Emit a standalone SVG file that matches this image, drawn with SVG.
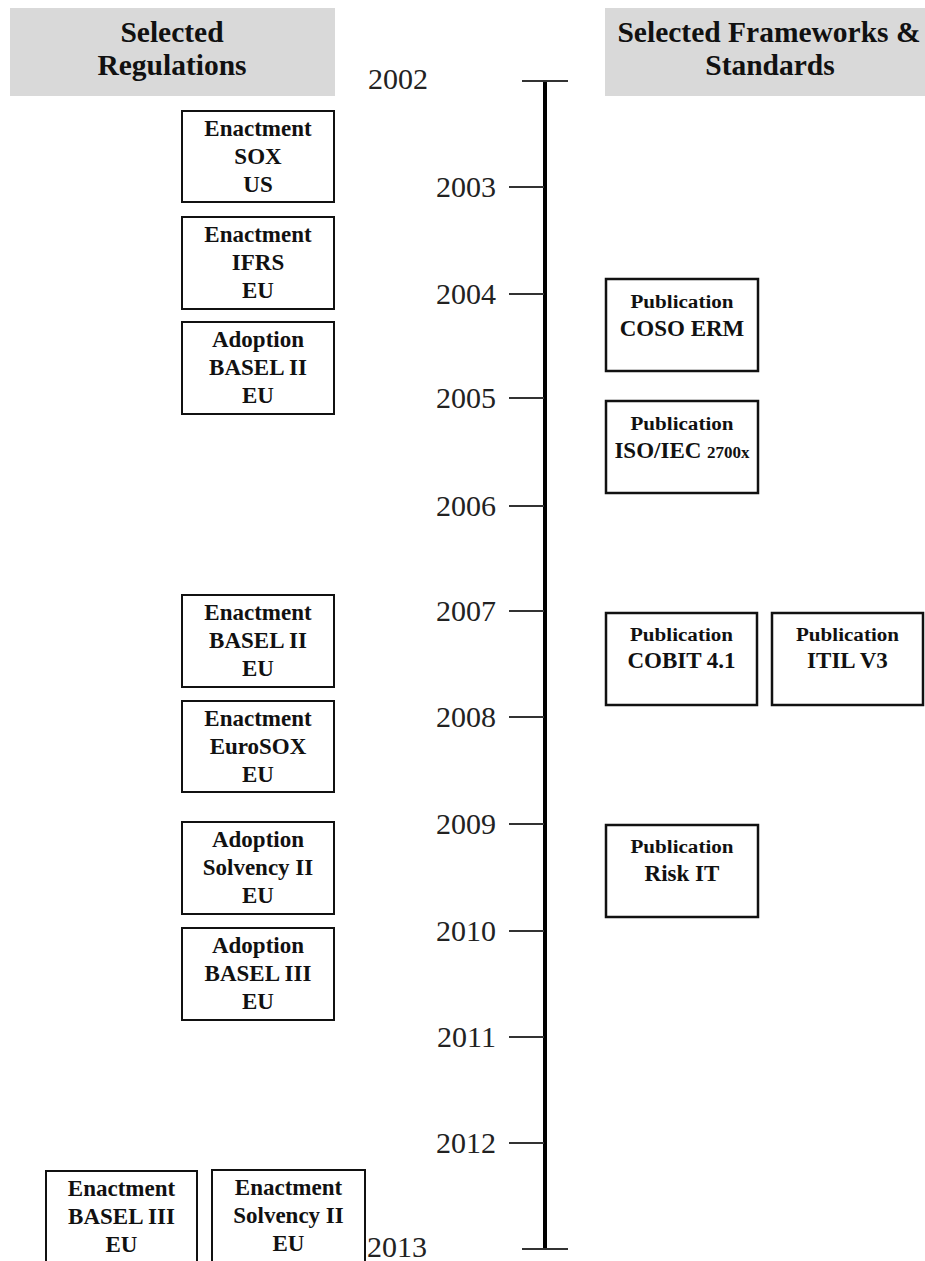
<svg xmlns="http://www.w3.org/2000/svg" width="925" height="1261" viewBox="0 0 925 1261">
<style>
.hdr{fill:#d9d9d9}
.ht{font-family:"Liberation Serif","Times New Roman",serif;font-weight:bold;font-size:29.5px;fill:#111;text-anchor:middle}
.yr{font-family:"Liberation Serif","Times New Roman",serif;font-size:30px;fill:#222}
.yrr{text-anchor:end}
.box{fill:#fff;stroke:#111;stroke-width:2}
.rbox{fill:#fff;stroke:#111;stroke-width:2.5}
.bt{font-family:"Liberation Serif","Times New Roman",serif;font-weight:bold;font-size:23px;fill:#111;text-anchor:middle}
.pub{font-family:"Liberation Serif","Times New Roman",serif;font-weight:bold;font-size:18px;fill:#111;text-anchor:middle}
.sm{font-size:17px}
.tick{stroke:#333;stroke-width:2}
.axis{stroke:#000;stroke-width:4}
</style>
<g id="header-regulations">
<rect class="hdr" x="10" y="8" width="325" height="88"/>
<text class="ht" x="172" y="42">Selected</text>
<text class="ht" x="172" y="75">Regulations</text>
</g>
<g id="header-frameworks">
<rect class="hdr" x="605" y="8" width="320" height="88"/>
<text class="ht" x="769" y="42">Selected Frameworks &amp;</text>
<text class="ht" x="770" y="75">Standards</text>
</g>
<g id="timeline">
<line class="axis" x1="545" y1="80" x2="545" y2="1250"/>
<line class="tick" x1="522" y1="81" x2="568" y2="81"/>
<line class="tick" x1="522" y1="1249" x2="568" y2="1249"/>
<line class="tick" x1="509" y1="187" x2="544" y2="187"/>
<line class="tick" x1="509" y1="294" x2="544" y2="294"/>
<line class="tick" x1="509" y1="398" x2="544" y2="398"/>
<line class="tick" x1="509" y1="506" x2="544" y2="506"/>
<line class="tick" x1="509" y1="611" x2="544" y2="611"/>
<line class="tick" x1="509" y1="717" x2="544" y2="717"/>
<line class="tick" x1="509" y1="824" x2="544" y2="824"/>
<line class="tick" x1="509" y1="931" x2="544" y2="931"/>
<line class="tick" x1="509" y1="1037" x2="544" y2="1037"/>
<line class="tick" x1="509" y1="1143" x2="544" y2="1143"/>
<text class="yr" x="368" y="89">2002</text>
<text class="yr yrr" x="496" y="197">2003</text>
<text class="yr yrr" x="496" y="304">2004</text>
<text class="yr yrr" x="496" y="408">2005</text>
<text class="yr yrr" x="496" y="516">2006</text>
<text class="yr yrr" x="496" y="621">2007</text>
<text class="yr yrr" x="496" y="727">2008</text>
<text class="yr yrr" x="496" y="834">2009</text>
<text class="yr yrr" x="496" y="941">2010</text>
<text class="yr yrr" x="496" y="1047">2011</text>
<text class="yr yrr" x="496" y="1153">2012</text>
<text class="yr" x="367" y="1257">2013</text>
</g>
<g id="reg-sox">
<rect class="box" x="182" y="111" width="152" height="91"/>
<text class="bt" x="258" y="136">Enactment</text>
<text class="bt" x="258" y="164">SOX</text>
<text class="bt" x="258" y="192">US</text>
</g>
<g id="reg-ifrs">
<rect class="box" x="182" y="217" width="152" height="92"/>
<text class="bt" x="258" y="242">Enactment</text>
<text class="bt" x="258" y="270">IFRS</text>
<text class="bt" x="258" y="298">EU</text>
</g>
<g id="reg-basel2-adopt">
<rect class="box" x="182" y="322" width="152" height="92"/>
<text class="bt" x="258" y="347">Adoption</text>
<text class="bt" x="258" y="375">BASEL II</text>
<text class="bt" x="258" y="403">EU</text>
</g>
<g id="reg-basel2-enact">
<rect class="box" x="182" y="595" width="152" height="92"/>
<text class="bt" x="258" y="620">Enactment</text>
<text class="bt" x="258" y="648">BASEL II</text>
<text class="bt" x="258" y="676">EU</text>
</g>
<g id="reg-eurosox">
<rect class="box" x="182" y="701" width="152" height="91"/>
<text class="bt" x="258" y="726">Enactment</text>
<text class="bt" x="258" y="754">EuroSOX</text>
<text class="bt" x="258" y="782">EU</text>
</g>
<g id="reg-solvency2-adopt">
<rect class="box" x="182" y="822" width="152" height="92"/>
<text class="bt" x="258" y="847">Adoption</text>
<text class="bt" x="258" y="875">Solvency II</text>
<text class="bt" x="258" y="903">EU</text>
</g>
<g id="reg-basel3-adopt">
<rect class="box" x="182" y="928" width="152" height="92"/>
<text class="bt" x="258" y="953">Adoption</text>
<text class="bt" x="258" y="981">BASEL III</text>
<text class="bt" x="258" y="1009">EU</text>
</g>
<g id="reg-basel3-enact">
<rect class="box" x="46" y="1171" width="151" height="92"/>
<text class="bt" x="121.5" y="1196">Enactment</text>
<text class="bt" x="121.5" y="1224">BASEL III</text>
<text class="bt" x="121.5" y="1252">EU</text>
</g>
<g id="reg-solvency2-enact">
<rect class="box" x="212" y="1170" width="153" height="93"/>
<text class="bt" x="288.5" y="1195">Enactment</text>
<text class="bt" x="288.5" y="1223">Solvency II</text>
<text class="bt" x="288.5" y="1251">EU</text>
</g>
<g id="fw-coso">
<rect class="rbox" x="606" y="279" width="152" height="92"/>
<text class="pub" x="682" y="308" textLength="103" lengthAdjust="spacingAndGlyphs">Publication</text>
<text class="bt" x="682" y="336">COSO ERM</text>
</g>
<g id="fw-iso">
<rect class="rbox" x="606" y="401" width="152" height="92"/>
<text class="pub" x="682" y="430" textLength="103" lengthAdjust="spacingAndGlyphs">Publication</text>
<text class="bt" x="682" y="458">ISO/IEC <tspan class="sm">2700x</tspan></text>
</g>
<g id="fw-cobit">
<rect class="rbox" x="606" y="613" width="151" height="92"/>
<text class="pub" x="681.5" y="641" textLength="103" lengthAdjust="spacingAndGlyphs">Publication</text>
<text class="bt" x="681.5" y="668">COBIT 4.1</text>
</g>
<g id="fw-itil">
<rect class="rbox" x="772" y="613" width="151" height="92"/>
<text class="pub" x="847.5" y="641" textLength="103" lengthAdjust="spacingAndGlyphs">Publication</text>
<text class="bt" x="847.5" y="668">ITIL V3</text>
</g>
<g id="fw-riskit">
<rect class="rbox" x="606" y="825" width="152" height="92"/>
<text class="pub" x="682" y="853" textLength="103" lengthAdjust="spacingAndGlyphs">Publication</text>
<text class="bt" x="682" y="881">Risk IT</text>
</g>
</svg>
